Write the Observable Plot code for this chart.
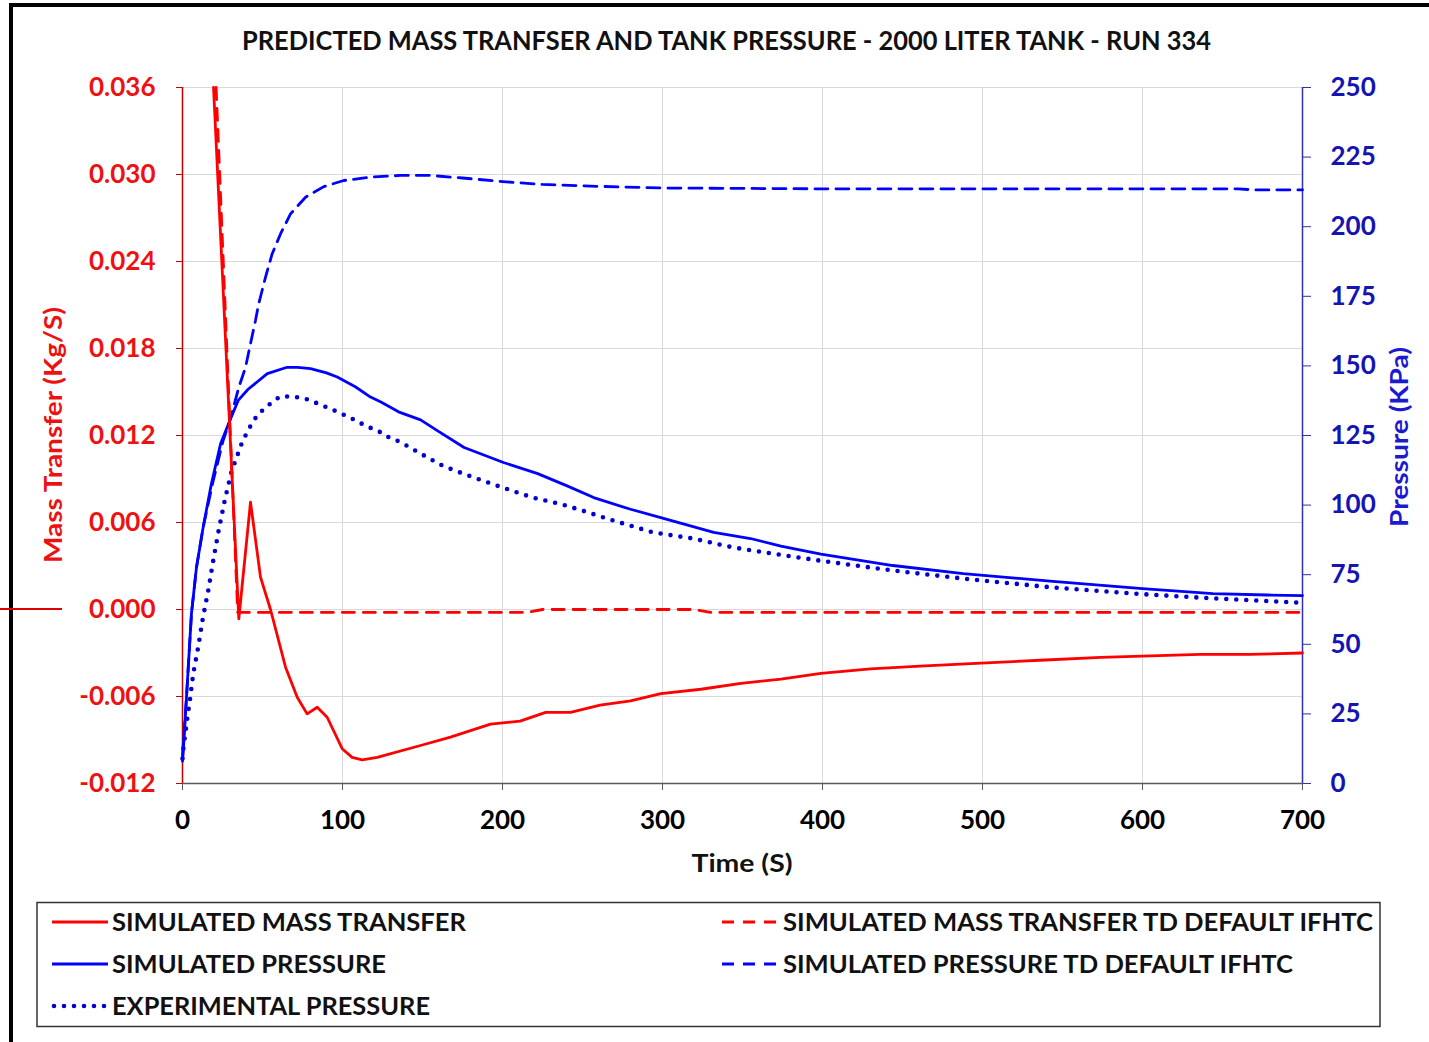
<!DOCTYPE html>
<html><head><meta charset="utf-8">
<script src="https://cdn.jsdelivr.net/npm/d3@7"></script>
<script src="https://cdn.jsdelivr.net/npm/@observablehq/plot@0.6"></script>
<style>
html,body{margin:0;padding:0;background:#fff;overflow:hidden;width:1429px;height:1042px;}
#page{position:relative;width:1429px;height:1042px;overflow:hidden;font-family:Lato,"Open Sans",sans-serif;}
#frame{position:absolute;left:9px;top:3px;width:1460px;height:1080px;border:4px solid #000;box-sizing:border-box;}
#chart{position:absolute;left:0;top:0;}
#overlay{position:absolute;left:0;top:0;pointer-events:none;}
#stub{position:absolute;left:0;top:608px;width:62px;height:2px;background:#e00000;}
</style></head><body>
<div id="page">
<div id="frame"></div>
<div id="chart"></div>
<svg id="overlay" width="1429" height="1042"></svg>
<div id="stub"></div>
</div>
<script>
// ---- Data ----
const xTicks = [0, 100, 200, 300, 400, 500, 600, 700];
const massTicks = [-0.012, -0.006, 0, 0.006, 0.012, 0.018, 0.024, 0.030, 0.036];
const pressTicks = [0, 25, 50, 75, 100, 125, 150, 175, 200, 225, 250];

// Simulated mass transfer (kg/s)
const massT = [19.4, 35.2, 42.5, 48.75, 55, 64.4, 71.7, 77.9, 84.2, 90.4, 99.8, 106, 112.3, 121.7, 148.75, 167.5, 192.5, 211, 227, 242.5, 261, 280, 299, 324, 349, 374, 399, 430, 461, 499, 536, 574, 605, 636, 667, 700];
const massV = [0.036, -0.00064, 0.0074, 0.00223, 0, -0.00398, -0.00605, -0.0072, -0.00674, -0.00743, -0.0096, -0.0102, -0.01037, -0.0102, -0.00938, -0.0088, -0.0079, -0.0077, -0.0071, -0.0071, -0.0066, -0.0063, -0.0058, -0.0055, -0.0051, -0.0048, -0.0044, -0.0041, -0.0039, -0.0037, -0.0035, -0.0033, -0.0032, -0.0031, -0.0031, -0.0030];

// Simulated mass transfer TD default IFHTC (kg/s)
const tdMassT = [21, 34.5, 100, 215, 225, 320, 330, 700];
const tdMassV = [0.036, -0.0002, -0.0002, -0.0002, 0, 0, -0.0002, -0.0002];

// Simulated pressure (kPa)
const simPressT = [0, 0.4, 2.5, 5.6, 8.75, 12.9, 18, 23.8, 29.6, 34.8, 41, 53, 65.4, 72, 80, 90, 96.7, 108, 117.5, 124, 135, 148.8, 160, 176, 200.6, 222, 240, 257, 280, 300.6, 332, 355, 374, 399, 444, 488, 544, 600, 644, 678, 700];
const simPressP = [8, 10.8, 31, 61, 77.7, 92, 107.5, 122, 130.4, 137.6, 141.6, 147.2, 149.5, 149.5, 149, 147.5, 146, 142.5, 138.8, 137, 133.5, 130.6, 126.5, 120.7, 115.3, 111.3, 107, 102.7, 98.5, 95.2, 90.2, 88, 85.3, 82.4, 78.3, 75.4, 72.6, 70, 68.2, 67.7, 67.5];

// Simulated pressure TD default IFHTC (kPa)
const tdPressT = [0, 2.5, 5.6, 8.75, 12.9, 19.2, 25.4, 29.6, 33, 35.2, 39.4, 42.5, 45.6, 47.5, 51.9, 56, 61.25, 67.5, 76.9, 88.3, 100.8, 117.5, 136, 155, 175, 200, 225, 260, 300, 400, 500, 600, 660, 670, 700];
const tdPressP = [10, 31, 61, 77.7, 92, 108.8, 123.2, 130.4, 137.6, 142.3, 149.5, 158, 166.3, 172, 181.9, 190.2, 197.4, 204.6, 210.6, 214.4, 216.6, 217.8, 218.4, 218.4, 217.5, 216.2, 215.2, 214.5, 213.9, 213.6, 213.6, 213.6, 213.6, 213.2, 213.2];

// Experimental pressure (kPa)
const expT = [0, 0.4, 2.5, 4.6, 6.7, 9.8, 12.9, 16, 19.2, 22.3, 26.5, 30.6, 36.9, 41, 44.2, 47, 51.9, 56, 61, 67.5, 74.8, 80, 86, 92.5, 98.7, 105, 110, 116.5, 122.7, 128, 134, 140, 151, 163, 175, 187.5, 200, 219, 237.5, 250, 269, 294, 319, 344, 372, 399, 444, 488, 544, 600, 644, 696, 700];
const expP = [9, 11.9, 21.4, 29.8, 39.4, 49, 60, 69, 80, 90, 102, 112, 122, 127, 130, 132.5, 135, 137, 139, 139, 138.5, 137.6, 136.1, 134.6, 133, 131.4, 129.8, 128, 126.5, 124.6, 123.2, 121.4, 117.8, 114, 111.4, 108.8, 106.3, 102.7, 100.2, 98, 94.5, 90.2, 88, 84.8, 82.3, 80, 76.5, 73.6, 70.4, 68, 66.5, 65, 64.2];

// ---- Scales for dual axis ----
const yMin = -0.012, yMax = 0.036, pMax = 250;
const toY = p => yMin + p * (yMax - yMin) / pMax;
const fromY = y => (y - yMin) * pMax / (yMax - yMin);

const zip = (ts, vs) => ts.map((t, i) => ({t, v: vs[i]}));
const massData = zip(massT, massV);
const tdMassData = zip(tdMassT, tdMassV);
const simPress = zip(simPressT, simPressP);
const tdPress = zip(tdPressT, tdPressP);
const expPress = zip(expT, expP);

const RED = "#ff0000", BLUE = "#0000ff";
const FONT = "Lato, 'Open Sans', sans-serif";

const chart = Plot.plot({
  width: 1429, height: 883,
  marginLeft: 182, marginRight: 127, marginTop: 87, marginBottom: 100,
  style: {fontFamily: FONT, fontWeight: "bold", background: "transparent", overflow: "visible"},
  x: {domain: [0, 700]},
  y: {domain: [yMin, yMax]},
  marks: [
    Plot.gridX(xTicks, {stroke: "#d9d9d9", strokeOpacity: 1, strokeWidth: 1}),
    Plot.gridY(massTicks, {stroke: "#d9d9d9", strokeOpacity: 1, strokeWidth: 1}),
    Plot.ruleY([yMin], {stroke: "#595959", strokeWidth: 1.5}),
    Plot.ruleX([0], {stroke: "#c00000", strokeWidth: 1.5}),
    Plot.ruleX([700], {stroke: "#3030b0", strokeWidth: 1.5}),
    Plot.line(expPress, {x: "t", y: d => toY(d.v), stroke: "#0000d0", strokeWidth: 4.6, strokeDasharray: "0 10", strokeLinecap: "round", curve: "linear"}),
    Plot.line(simPress, {x: "t", y: d => toY(d.v), stroke: BLUE, strokeWidth: 2.8}),
    Plot.line(tdPress, {x: "t", y: d => toY(d.v), stroke: BLUE, strokeWidth: 2.8, strokeDasharray: "13 8"}),
    Plot.line(massData, {x: "t", y: "v", stroke: RED, strokeWidth: 2.8}),
    Plot.line(tdMassData, {x: "t", y: "v", stroke: RED, strokeWidth: 2.8, strokeDasharray: "12 9"}),
    Plot.axisX(xTicks, {tickSize: 7, tickPadding: 20, fontSize: 26, fontWeight: "bold", fill: "#000", stroke: "#595959", label: null}),
    Plot.axisY(massTicks, {anchor: "left", tickSize: 6, tickPadding: 21, fontSize: 26, fontWeight: "bold", fill: "#ee1111", stroke: "#c00000", tickFormat: d => d.toFixed(3), label: null}),
    Plot.axisY(pressTicks.map(toY), {anchor: "right", tickSize: 8, tickPadding: 20, fontSize: 26, fontWeight: "bold", fill: "#1414b4", stroke: "#3030b0", tickFormat: d => String(Math.round(fromY(d))), label: null})
  ]
});
document.getElementById("chart").appendChild(chart);

// ---- Titles and legend (overlay) ----
const ov = d3.select("#overlay");
function txt(str, attrs) {
  const t = ov.append("text").text(str)
    .attr("font-family", FONT).attr("font-weight", "bold")
    .attr("lengthAdjust", "spacingAndGlyphs");
  for (const k in attrs) t.attr(k, attrs[k]);
  return t;
}
txt("PREDICTED MASS TRANFSER AND TANK PRESSURE - 2000 LITER TANK - RUN 334",
  {x: 242, y: 50, "font-size": 27, fill: "#111", textLength: 969});
txt("Mass Transfer (Kg/S)",
  {transform: "translate(62,435) rotate(-90)", "text-anchor": "middle", "font-size": 24, fill: "#ee1111", textLength: 256});
txt("Pressure (KPa)",
  {transform: "translate(1408,437) rotate(-90)", "text-anchor": "middle", "font-size": 24, fill: "#1a1ad0", textLength: 180});
txt("Time (S)",
  {x: 742, y: 872, "text-anchor": "middle", "font-size": 24, fill: "#111", textLength: 101});

ov.append("rect").attr("x", 37).attr("y", 902.5).attr("width", 1343).attr("height", 124)
  .attr("fill", "none").attr("stroke", "#333").attr("stroke-width", 1.5);

const legendRows = [
  {x1: 52, x2: 108, y: 922, color: RED, dash: null, cap: "butt", w: 2.8, label: "SIMULATED MASS TRANSFER", tx: 112, tw: 354},
  {x1: 52, x2: 108, y: 964, color: BLUE, dash: null, cap: "butt", w: 2.8, label: "SIMULATED PRESSURE", tx: 112, tw: 274},
  {x1: 54, x2: 108, y: 1006, color: "#0000d0", dash: "0 10", cap: "round", w: 4.6, label: "EXPERIMENTAL PRESSURE", tx: 112, tw: 318},
  {x1: 722, x2: 780, y: 922, color: RED, dash: "12 9", cap: "butt", w: 2.8, label: "SIMULATED MASS TRANSFER TD DEFAULT IFHTC", tx: 783, tw: 590},
  {x1: 722, x2: 780, y: 964, color: BLUE, dash: "12 9", cap: "butt", w: 2.8, label: "SIMULATED PRESSURE TD DEFAULT IFHTC", tx: 783, tw: 510}
];
for (const r of legendRows) {
  const l = ov.append("line").attr("x1", r.x1).attr("x2", r.x2).attr("y1", r.y).attr("y2", r.y)
    .attr("stroke", r.color).attr("stroke-width", r.w).attr("stroke-linecap", r.cap);
  if (r.dash) l.attr("stroke-dasharray", r.dash);
  txt(r.label, {x: r.tx, y: r.y + 9, "font-size": 25, fill: "#111", textLength: r.tw});
}
</script>
</body></html>
